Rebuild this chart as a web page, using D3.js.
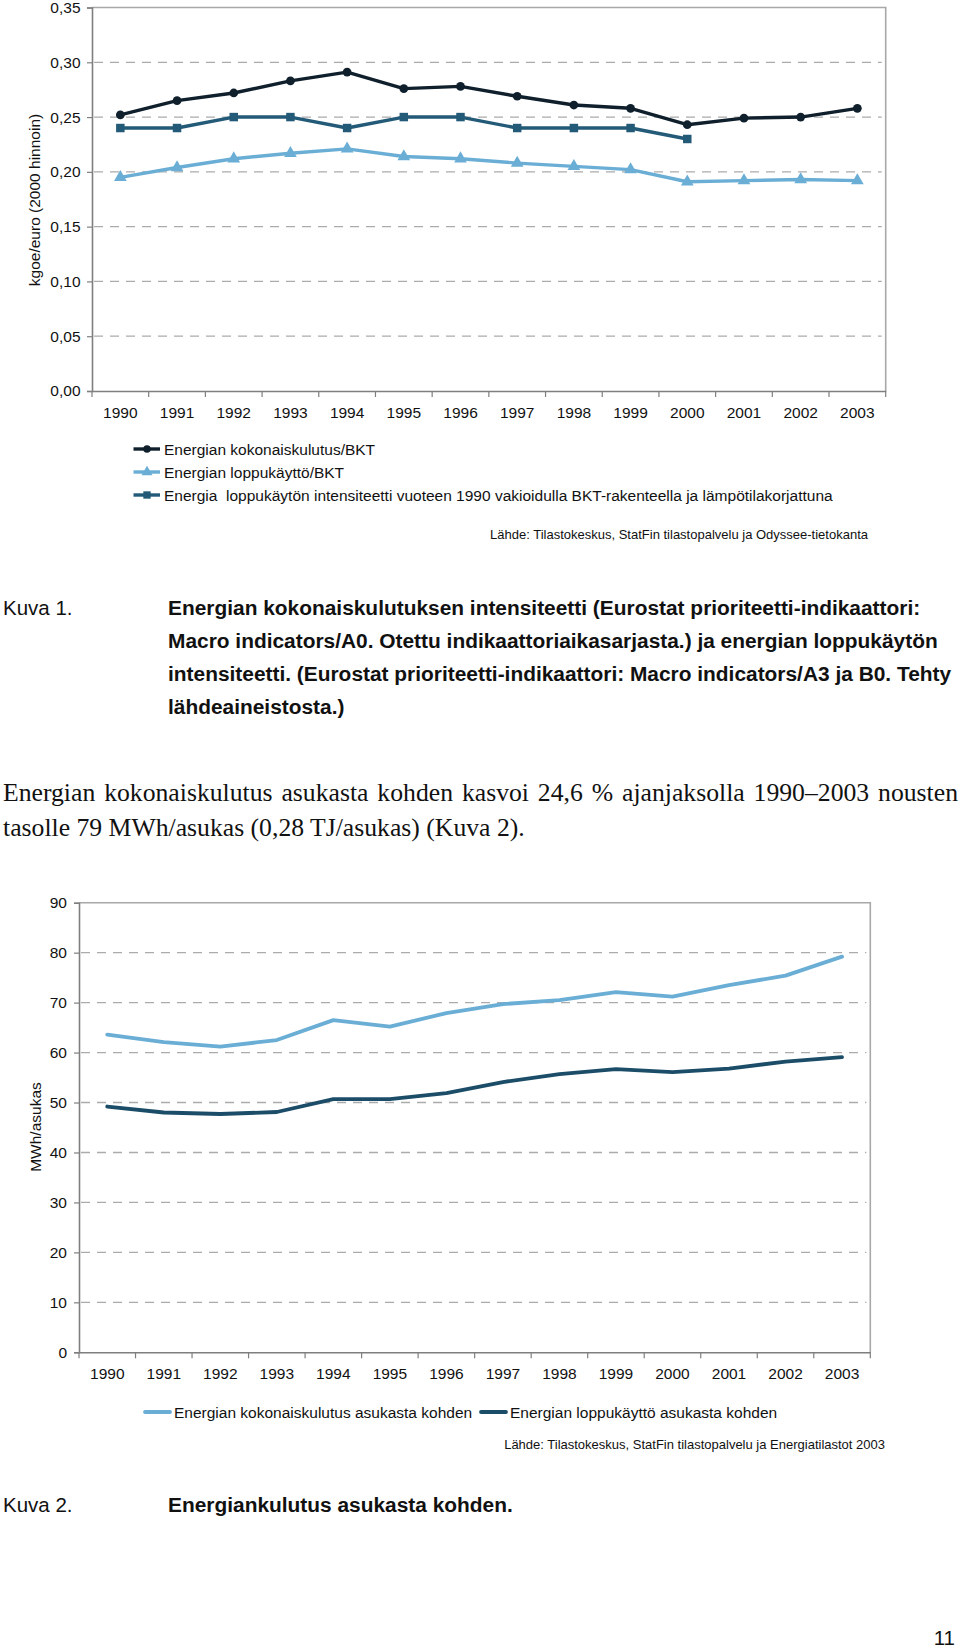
<!DOCTYPE html>
<html><head><meta charset="utf-8">
<script src="https://cdn.jsdelivr.net/npm/d3@7"></script>
<style>
body{margin:0;background:#fff}
svg text{font-family:"Liberation Sans",Arial,Helvetica,sans-serif;fill:#111}
</style>
</head><body>
<svg id="page" width="960" height="1648"></svg>
<script>
// ---------- data ----------
const years = ["1990","1991","1992","1993","1994","1995","1996","1997","1998","1999","2000","2001","2002","2003"];

// Figure 1 (kgoe/euro, 2000 prices)
const intensityTicks = [0,0.05,0.10,0.15,0.20,0.25,0.30,0.35];
const totalPerGdp   = [0.252,0.265,0.272,0.283,0.291,0.276,0.278,0.269,0.261,0.258,0.243,0.249,0.250,0.258];
const finalPerGdp   = [0.195,0.204,0.212,0.217,0.221,0.214,0.212,0.208,0.205,0.202,0.191,0.192,0.193,0.192];
const adjustedFinal = [0.24,0.24,0.25,0.25,0.24,0.25,0.25,0.24,0.24,0.24,0.23,null,null,null];
const legend1 = ["Energian kokonaiskulutus/BKT","Energian loppukäyttö/BKT","Energia  loppukäytön intensiteetti vuoteen 1990 vakioidulla BKT-rakenteella ja lämpötilakorjattuna"];

// Figure 2 (MWh/asukas)
const perCapitaTicks = [0,10,20,30,40,50,60,70,80,90];
const totalPerCapita = [63.6,62.1,61.2,62.5,66.5,65.2,67.9,69.7,70.5,72.1,71.2,73.5,75.4,79.2];
const finalPerCapita = [49.2,48.0,47.7,48.1,50.7,50.7,51.9,54.1,55.7,56.7,56.1,56.8,58.2,59.1];
const legend2 = ["Energian kokonaiskulutus asukasta kohden","Energian loppukäyttö asukasta kohden"];

const caption1 = ["Energian kokonaiskulutuksen intensiteetti (Eurostat prioriteetti-indikaattori:",
  "Macro indicators/A0. Otettu indikaattoriaikasarjasta.) ja energian loppukäytön",
  "intensiteetti. (Eurostat prioriteetti-indikaattori: Macro indicators/A3 ja B0. Tehty",
  "lähdeaineistosta.)"];
const paragraph = ["Energian kokonaiskulutus asukasta kohden kasvoi 24,6 % ajanjaksolla 1990–2003 nousten",
  "tasolle 79 MWh/asukas (0,28 TJ/asukas) (Kuva 2)."];

// ---------- styles ----------
const C_DARK = "#0f1f2c", C_LIGHT = "#6aaed6", C_MID = "#235a78", C_DARK2 = "#1c4d68";
const svg = d3.select("#page");
const commaFmt = f => (v => d3.format(f)(v).replace(".", ","));

function frame(g, x, y, ticks, fmt, padL) {
  const [x0, x1] = x.range(), [y0, y1] = y.range();
  g.append("g").selectAll("line").data(ticks.filter(t => t > 0 && t < ticks[ticks.length-1]))
    .join("line").attr("x1", x0+2).attr("x2", x1-4).attr("y1", d => y(d)).attr("y2", d => y(d))
    .attr("stroke", "#ababab").attr("stroke-width", 1.3).attr("stroke-dasharray", "9,7");
  g.append("path").attr("d", `M${x0},${y1}H${x1}V${y0}`).attr("fill","none").attr("stroke","#a8a8a8").attr("stroke-width",1.6);
  const ya = g.append("g").attr("transform", `translate(${x0},0)`)
    .call(d3.axisLeft(y).tickValues(ticks).tickFormat(fmt).tickSize(5).tickPadding(padL));
  ya.select(".domain").attr("stroke","#7f7f7f").attr("stroke-width",1.6);
  ya.selectAll(".tick line").attr("stroke","#7f7f7f").attr("stroke-width",1.2);
  ya.selectAll("text").attr("font-size", 15.5).attr("fill","#111").style("font-family","Liberation Sans, Arial, sans-serif");
  const xa = g.append("g").attr("transform", `translate(0,${y0})`)
    .call(d3.axisBottom(x).tickSize(0).tickPadding(16));
  xa.select(".domain").attr("stroke","#7f7f7f").attr("stroke-width",1.6);
  xa.selectAll("text").attr("font-size", 15.5).attr("fill","#111").style("font-family","Liberation Sans, Arial, sans-serif");
  const bounds = years.map(d => x(d)).concat([x1]);
  g.append("g").selectAll("line").data(bounds).join("line")
    .attr("x1", d => d).attr("x2", d => d).attr("y1", y0).attr("y2", y0+6)
    .attr("stroke","#7f7f7f").attr("stroke-width",1.2);
}

// ---------- Figure 1 ----------
{
  const g = svg.append("g");
  const x = d3.scaleBand().domain(years).range([92, 885.7]);
  const y = d3.scaleLinear().domain([0, 0.35]).range([391, 7.5]);
  frame(g, x, y, intensityTicks, commaFmt(".2f"), 6.5);
  const cx = d => x(d) + x.bandwidth()/2;
  const series = [
    {vals: totalPerGdp, color: C_DARK, sym: d3.symbolCircle, size: 60},
    {vals: finalPerGdp, color: C_LIGHT, sym: d3.symbolTriangle, size: 70},
    {vals: adjustedFinal, color: C_MID, sym: d3.symbolSquare, size: 72}
  ];
  series.forEach(s => {
    const pts = years.map((yr,i) => ({yr, v: s.vals[i]})).filter(p => p.v != null);
    g.append("path").datum(pts)
      .attr("d", d3.line().x(p => cx(p.yr)).y(p => y(p.v)))
      .attr("fill","none").attr("stroke", s.color).attr("stroke-width", 3.4).attr("stroke-linejoin","round");
    g.append("g").selectAll("path").data(pts).join("path")
      .attr("d", d3.symbol(s.sym, s.size))
      .attr("transform", p => `translate(${cx(p.yr)},${y(p.v)})`).attr("fill", s.color);
  });
  g.append("text").attr("transform","translate(34,200) rotate(-90)").attr("text-anchor","middle")
    .attr("dominant-baseline","central").attr("font-size",15.5).text("kgoe/euro (2000 hinnoin)");
  const ly = [449, 472, 495];
  series.forEach((s,i) => {
    const lg = g.append("g");
    lg.append("line").attr("x1",133.5).attr("x2",160).attr("y1",ly[i]).attr("y2",ly[i]).attr("stroke",s.color).attr("stroke-width",3.4);
    lg.append("path").attr("d", d3.symbol(s.sym, s.size*0.75)).attr("transform",`translate(147,${ly[i]})`).attr("fill",s.color);
    lg.append("text").attr("x",164).attr("y",ly[i]).attr("dominant-baseline","central").attr("font-size",15.5)
      .style("white-space","pre").text(legend1[i]);
  });
  g.append("text").attr("x",868).attr("y",534).attr("text-anchor","end").attr("dominant-baseline","central")
    .attr("font-size",13).text("Lähde: Tilastokeskus, StatFin tilastopalvelu ja Odyssee-tietokanta");
}

// ---------- Caption 1 & paragraph ----------
svg.append("text").attr("x",3).attr("y",607).attr("dominant-baseline","central").attr("font-size",20.5).text("Kuva 1.");
caption1.forEach((t,i) => svg.append("text").attr("x",168).attr("y",607+i*33).attr("dominant-baseline","central")
  .attr("font-size",20.9).attr("font-weight","bold").text(t));
paragraph.forEach((t,i) => {
  const tx = svg.append("text").attr("x",3).attr("y",792+i*35.5).attr("dominant-baseline","central")
    .attr("font-size",25.7).style("font-family","Liberation Serif, 'Times New Roman', serif").text(t);
  if (i === 0) {
    const w = tx.node().getComputedTextLength();
    const spaces = (t.match(/ /g) || []).length;
    tx.attr("word-spacing", (955 - w) / spaces);
  }
});

// ---------- Figure 2 ----------
{
  const g = svg.append("g");
  const x = d3.scaleBand().domain(years).range([79, 870.3]);
  const y = d3.scaleLinear().domain([0, 90]).range([1352.3, 902.7]);
  frame(g, x, y, perCapitaTicks, d3.format("d"), 7);
  const cx = d => x(d) + x.bandwidth()/2;
  const series = [
    {vals: totalPerCapita, color: C_LIGHT},
    {vals: finalPerCapita, color: C_DARK2}
  ];
  series.forEach(s => {
    g.append("path").datum(years.map((yr,i) => ({yr, v: s.vals[i]})))
      .attr("d", d3.line().x(p => cx(p.yr)).y(p => y(p.v)))
      .attr("fill","none").attr("stroke", s.color).attr("stroke-width", 3.8).attr("stroke-linejoin","round").attr("stroke-linecap","round");
  });
  g.append("text").attr("transform","translate(35,1127) rotate(-90)").attr("text-anchor","middle")
    .attr("dominant-baseline","central").attr("font-size",15.5).text("MWh/asukas");
  const lx = [[145,170,174],[481,506,510]];
  series.forEach((s,i) => {
    g.append("line").attr("x1",lx[i][0]).attr("x2",lx[i][1]).attr("y1",1412).attr("y2",1412)
      .attr("stroke",s.color).attr("stroke-width",3.8).attr("stroke-linecap","round");
    g.append("text").attr("x",lx[i][2]).attr("y",1412).attr("dominant-baseline","central").attr("font-size",15.5).text(legend2[i]);
  });
  g.append("text").attr("x",885).attr("y",1444).attr("text-anchor","end").attr("dominant-baseline","central")
    .attr("font-size",13).text("Lähde: Tilastokeskus, StatFin tilastopalvelu ja Energiatilastot 2003");
}

svg.append("text").attr("x",3).attr("y",1504).attr("dominant-baseline","central").attr("font-size",20.5).text("Kuva 2.");
svg.append("text").attr("x",168).attr("y",1504).attr("dominant-baseline","central").attr("font-size",20.9).attr("font-weight","bold").text("Energiankulutus asukasta kohden.");
svg.append("text").attr("x",955).attr("y",1637).attr("text-anchor","end").attr("dominant-baseline","central").attr("font-size",20.5).text("11");
</script>
</body></html>
